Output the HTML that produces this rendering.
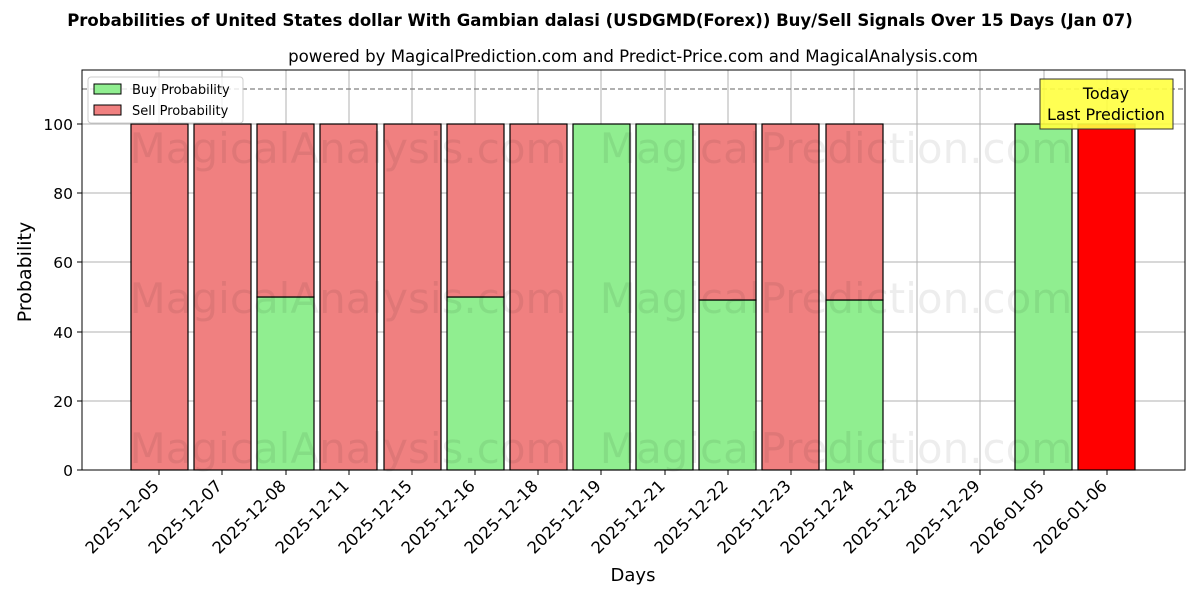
<!DOCTYPE html>
<html><head><meta charset="utf-8"><style>body{margin:0;background:#fff}svg{display:block}text{font-family:"DejaVu Sans","Liberation Sans",sans-serif}</style></head>
<body>
<svg width="1200" height="600" viewBox="0 0 1200 600" xmlns="http://www.w3.org/2000/svg">
<text x="600" y="26" text-anchor="middle" font-size="16.5" font-weight="bold">Probabilities of United States dollar With Gambian dalasi (USDGMD(Forex)) Buy/Sell Signals Over 15 Days (Jan 07)</text>
<text x="633" y="62" text-anchor="middle" font-size="16.6">powered by MagicalPrediction.com and Predict-Price.com and MagicalAnalysis.com</text>
<g stroke="#b0b0b0" stroke-width="1">
<line x1="82" x2="1185" y1="470" y2="470"/><line x1="82" x2="1185" y1="401" y2="401"/><line x1="82" x2="1185" y1="332" y2="332"/><line x1="82" x2="1185" y1="262" y2="262"/><line x1="82" x2="1185" y1="193" y2="193"/><line x1="82" x2="1185" y1="124" y2="124"/>
<line x1="159" x2="159" y1="70" y2="470"/><line x1="222" x2="222" y1="70" y2="470"/><line x1="286" x2="286" y1="70" y2="470"/><line x1="349" x2="349" y1="70" y2="470"/><line x1="412" x2="412" y1="70" y2="470"/><line x1="475" x2="475" y1="70" y2="470"/><line x1="538" x2="538" y1="70" y2="470"/><line x1="601" x2="601" y1="70" y2="470"/><line x1="665" x2="665" y1="70" y2="470"/><line x1="728" x2="728" y1="70" y2="470"/><line x1="791" x2="791" y1="70" y2="470"/><line x1="854" x2="854" y1="70" y2="470"/><line x1="917" x2="917" y1="70" y2="470"/><line x1="980" x2="980" y1="70" y2="470"/><line x1="1044" x2="1044" y1="70" y2="470"/><line x1="1107" x2="1107" y1="70" y2="470"/>
</g>
<g stroke="#000" stroke-width="1.2">
<rect x="131" y="124" width="57" height="346" fill="#f08080"/>
<rect x="194" y="124" width="57" height="346" fill="#f08080"/>
<rect x="257" y="297" width="57" height="173" fill="#90ee90"/><rect x="257" y="124" width="57" height="173" fill="#f08080"/>
<rect x="320" y="124" width="57" height="346" fill="#f08080"/>
<rect x="384" y="124" width="57" height="346" fill="#f08080"/>
<rect x="447" y="297" width="57" height="173" fill="#90ee90"/><rect x="447" y="124" width="57" height="173" fill="#f08080"/>
<rect x="510" y="124" width="57" height="346" fill="#f08080"/>
<rect x="573" y="124" width="57" height="346" fill="#90ee90"/>
<rect x="636" y="124" width="57" height="346" fill="#90ee90"/>
<rect x="699" y="300" width="57" height="170" fill="#90ee90"/><rect x="699" y="124" width="57" height="176" fill="#f08080"/>
<rect x="762" y="124" width="57" height="346" fill="#f08080"/>
<rect x="826" y="300" width="57" height="170" fill="#90ee90"/><rect x="826" y="124" width="57" height="176" fill="#f08080"/>
<rect x="1015" y="124" width="57" height="346" fill="#90ee90"/>
<rect x="1078" y="124" width="57" height="346" fill="#ff0000"/>
</g>
<g font-size="42" fill="#000" fill-opacity="0.07" text-anchor="middle">
<text x="348" y="163">MagicalAnalysis.com</text><text x="836" y="163">MagicalPrediction.com</text>
<text x="348" y="313">MagicalAnalysis.com</text><text x="836" y="313">MagicalPrediction.com</text>
<text x="348" y="463">MagicalAnalysis.com</text><text x="836" y="463">MagicalPrediction.com</text>
</g>
<line x1="82" x2="1185" y1="89" y2="89" stroke="#808080" stroke-width="1.2" stroke-dasharray="5,3"/>
<rect x="1040" y="79" width="133" height="50" fill="#ffff40" fill-opacity="0.9" stroke="#333" stroke-width="1"/>
<text x="1106" y="99" text-anchor="middle" font-size="16">Today</text>
<text x="1106" y="120" text-anchor="middle" font-size="16">Last Prediction</text>
<rect x="88" y="77" width="155" height="46" fill="#fff" fill-opacity="0.8" stroke="#ccc" rx="3"/>
<rect x="94" y="84" width="27" height="10" fill="#90ee90" stroke="#000"/>
<text x="132" y="94" font-size="13">Buy Probability</text>
<rect x="94" y="105" width="27" height="10" fill="#f08080" stroke="#000"/>
<text x="132" y="115" font-size="13">Sell Probability</text>
<rect x="82" y="70" width="1103" height="400" fill="none" stroke="#000" stroke-width="1"/>
<g stroke="#000"><line x1="77" x2="82" y1="470" y2="470"/><line x1="77" x2="82" y1="401" y2="401"/><line x1="77" x2="82" y1="332" y2="332"/><line x1="77" x2="82" y1="262" y2="262"/><line x1="77" x2="82" y1="193" y2="193"/><line x1="77" x2="82" y1="124" y2="124"/>
<line x1="159" x2="159" y1="470" y2="475"/><line x1="222" x2="222" y1="470" y2="475"/><line x1="286" x2="286" y1="470" y2="475"/><line x1="349" x2="349" y1="470" y2="475"/><line x1="412" x2="412" y1="470" y2="475"/><line x1="475" x2="475" y1="470" y2="475"/><line x1="538" x2="538" y1="470" y2="475"/><line x1="601" x2="601" y1="470" y2="475"/><line x1="665" x2="665" y1="470" y2="475"/><line x1="728" x2="728" y1="470" y2="475"/><line x1="791" x2="791" y1="470" y2="475"/><line x1="854" x2="854" y1="470" y2="475"/><line x1="917" x2="917" y1="470" y2="475"/><line x1="980" x2="980" y1="470" y2="475"/><line x1="1044" x2="1044" y1="470" y2="475"/><line x1="1107" x2="1107" y1="470" y2="475"/></g>
<g font-size="15.5" text-anchor="end">
<text x="73" y="476">0</text><text x="73" y="407">20</text><text x="73" y="338">40</text><text x="73" y="268">60</text><text x="73" y="199">80</text><text x="73" y="130">100</text>
</g>
<text transform="translate(31,272) rotate(-90)" text-anchor="middle" font-size="19">Probability</text>
<text x="633" y="581" text-anchor="middle" font-size="18">Days</text>
<g font-size="16.5" text-anchor="end">
<text transform="translate(160,487) rotate(-45)">2025-12-05</text>
<text transform="translate(223,487) rotate(-45)">2025-12-07</text>
<text transform="translate(287,487) rotate(-45)">2025-12-08</text>
<text transform="translate(350,487) rotate(-45)">2025-12-11</text>
<text transform="translate(413,487) rotate(-45)">2025-12-15</text>
<text transform="translate(476,487) rotate(-45)">2025-12-16</text>
<text transform="translate(539,487) rotate(-45)">2025-12-18</text>
<text transform="translate(602,487) rotate(-45)">2025-12-19</text>
<text transform="translate(666,487) rotate(-45)">2025-12-21</text>
<text transform="translate(729,487) rotate(-45)">2025-12-22</text>
<text transform="translate(792,487) rotate(-45)">2025-12-23</text>
<text transform="translate(855,487) rotate(-45)">2025-12-24</text>
<text transform="translate(918,487) rotate(-45)">2025-12-28</text>
<text transform="translate(981,487) rotate(-45)">2025-12-29</text>
<text transform="translate(1045,487) rotate(-45)">2026-01-05</text>
<text transform="translate(1108,487) rotate(-45)">2026-01-06</text>
</g>
</svg>
</body></html>
